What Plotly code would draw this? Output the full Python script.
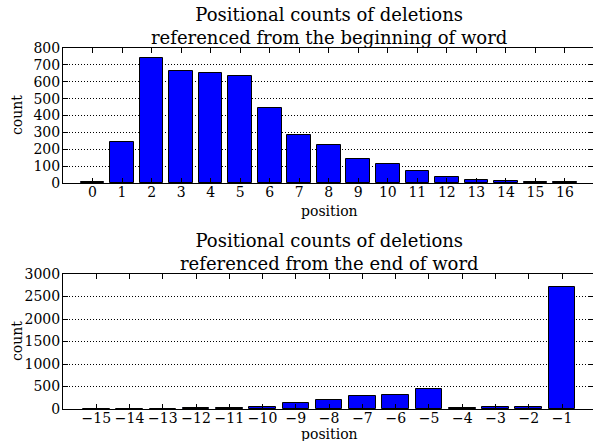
import plotly.graph_objects as go

# Data
begin_positions = list(range(0, 17))
begin_counts = [8, 243, 738, 665, 652, 635, 445, 287, 227, 145, 115, 73, 38, 20, 14, 8, 3]

end_positions = list(range(-15, 0))
end_counts = [2, 3, 8, 15, 25, 50, 130, 205, 280, 315, 455, 15, 35, 35, 2720]

top_title = "Positional counts of deletions<br>referenced from the beginning of word"
bottom_title = "Positional counts of deletions<br>referenced from the end of word"

W, H = 593, 441
FONT = "DejaVu Serif"

fig = go.Figure()
fig.add_trace(go.Bar(x=begin_positions, y=begin_counts, width=0.8,
                     marker=dict(color="#0000ff", line=dict(color="black", width=1)),
                     xaxis="x", yaxis="y", showlegend=False))
fig.add_trace(go.Bar(x=end_positions, y=end_counts, width=0.8,
                     marker=dict(color="#0000ff", line=dict(color="black", width=1)),
                     xaxis="x2", yaxis="y2", showlegend=False))

left = 63 / W
xdom = [left, 1]
top_dom = [1 - 183 / H, 1 - 48 / H]
bot_dom = [1 - 409 / H, 1 - 274 / H]

common_x = dict(showgrid=False, zeroline=False, showline=True, linecolor="black", linewidth=1,
                mirror="ticks", ticks="inside", ticklen=5, tickcolor="black", tickangle=0,
                automargin=False, ticklabelstandoff=-4,
                tickfont=dict(family=FONT, size=14, color="black"), dtick=1)
common_y = dict(showgrid=True, gridcolor="black", griddash="1px,2px", gridwidth=1,
                zeroline=False, showline=True, linecolor="black", linewidth=1,
                mirror="ticks", ticks="inside", ticklen=5, tickcolor="black",
                automargin=False, ticklabelstandoff=-1,
                tickfont=dict(family=FONT, size=14, color="black"))

fig.update_layout(
    width=W, height=H,
    margin=dict(l=0, r=0, t=0, b=0),
    paper_bgcolor="white", plot_bgcolor="white",
    bargap=0,
    xaxis=dict(domain=xdom, anchor="y", range=[-1, 16.95],
               tickvals=begin_positions, **common_x),
    yaxis=dict(domain=top_dom, anchor="x", range=[0, 800], dtick=100, **common_y),
    xaxis2=dict(domain=xdom, anchor="y2", range=[-16, -0.07],
                tickvals=end_positions,
                ticktext=["\u2212" + str(-p) for p in end_positions], **common_x),
    yaxis2=dict(domain=bot_dom, anchor="x2", range=[0, 3000], dtick=500, **common_y),
)

cx = (63 + 595) / 2 / W
ann_font = dict(family=FONT, size=18, color="black")
lab_font = dict(family=FONT, size=14, color="black")
fig.add_annotation(text=top_title, x=cx, y=1 - 26 / H, xref="paper", yref="paper",
                   showarrow=False, font=ann_font, xanchor="center", yanchor="middle")
fig.add_annotation(text=bottom_title, x=cx, y=1 - 252 / H, xref="paper", yref="paper",
                   showarrow=False, font=ann_font, xanchor="center", yanchor="middle")
fig.add_annotation(text="position", x=cx, y=1 - 211 / H, xref="paper", yref="paper",
                   showarrow=False, font=lab_font, xanchor="center", yanchor="middle")
fig.add_annotation(text="position", x=cx, y=1 - 433.5 / H, xref="paper", yref="paper",
                   showarrow=False, font=lab_font, xanchor="center", yanchor="middle")
fig.add_annotation(text="count", x=17 / W, y=1 - 115 / H, xref="paper", yref="paper",
                   showarrow=False, font=lab_font, textangle=-90, xanchor="center", yanchor="middle")
fig.add_annotation(text="count", x=17 / W, y=1 - 341 / H, xref="paper", yref="paper",
                   showarrow=False, font=lab_font, textangle=-90, xanchor="center", yanchor="middle")

fig.write_html("out.html", config={"displayModeBar": False},
               post_script="document.body.style.margin='0';document.body.style.overflow='hidden';")
